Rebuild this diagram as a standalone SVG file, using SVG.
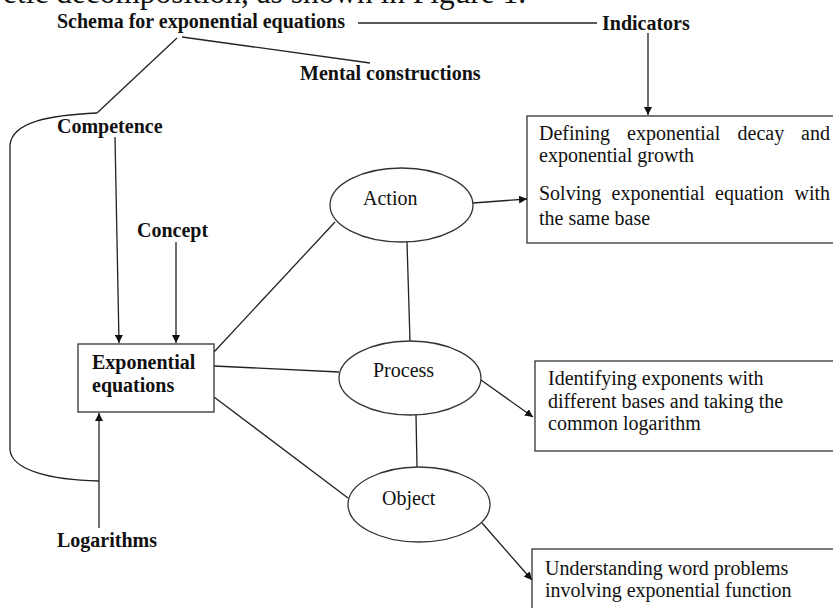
<svg xmlns="http://www.w3.org/2000/svg" width="833" height="608" viewBox="0 0 833 608">
<defs>
<marker id="ah" viewBox="0 0 10 10" refX="10" refY="5" markerWidth="8" markerHeight="8" markerUnits="userSpaceOnUse" orient="auto">
<path d="M0,0 L10,5 L0,10 z" fill="#111"/>
</marker>
<style>
.t{font-family:"Liberation Serif","Times New Roman",serif;font-size:20px;fill:#111}
.b{font-weight:bold}
.ln{stroke:#222;stroke-width:1.3;fill:none}
.bx{stroke:#333;stroke-width:1.3;fill:#fff}
.ar{stroke:#222;stroke-width:1.3;fill:none;marker-end:url(#ah)}
</style>
</defs>
<rect width="833" height="608" fill="#fff"/>
<text class="t" x="3" y="3" style="font-size:31.4px">etic decomposition, as shown in Figure 1.</text>

<g id="connectors">
<line class="ln" x1="358" y1="23" x2="597" y2="23"/>
<line class="ln" x1="182" y1="37" x2="370" y2="63"/>
<line class="ln" x1="177" y1="38" x2="97" y2="113"/>
<path class="ln" d="M97,113 C50,115 12,122 10,145 L10,450 C12,470 50,480 99,481"/>
<line class="ar" x1="648" y1="33" x2="648" y2="115"/>
<line class="ar" x1="115" y1="137" x2="119" y2="343"/>
<line class="ar" x1="176" y1="242" x2="176" y2="343"/>
<line class="ar" x1="99" y1="528" x2="99" y2="413"/>
<line class="ln" x1="214" y1="352" x2="335" y2="222"/>
<line class="ln" x1="214" y1="366" x2="339" y2="372"/>
<line class="ln" x1="214" y1="397" x2="348" y2="498"/>
<line class="ln" x1="407" y1="242" x2="410" y2="341"/>
<line class="ln" x1="416" y1="415" x2="417" y2="467"/>
<line class="ar" x1="473" y1="203" x2="527" y2="199"/>
<line class="ar" x1="481" y1="380" x2="533" y2="417"/>
<line class="ar" x1="482" y1="523" x2="532" y2="580"/>
</g>

<g id="schema"><text class="t b" x="57" y="28">Schema for exponential equations</text></g>
<g id="indicators"><text class="t b" x="602" y="30">Indicators</text></g>
<g id="mental"><text class="t b" x="300" y="80">Mental constructions</text></g>
<g id="competence"><text class="t b" x="57" y="133">Competence</text></g>
<g id="concept"><text class="t b" x="137" y="237">Concept</text></g>
<g id="logarithms"><text class="t b" x="57" y="547">Logarithms</text></g>

<g id="exponential">
<rect class="bx" x="78" y="344" width="136" height="68"/>
<text class="t b" x="92" y="369">Exponential</text>
<text class="t b" x="92" y="392">equations</text>
</g>

<g id="action">
<ellipse class="bx" cx="401.5" cy="205" rx="71.5" ry="37"/>
<text class="t" x="363" y="205">Action</text>
</g>
<g id="process">
<ellipse class="bx" cx="410" cy="378" rx="71" ry="37"/>
<text class="t" x="373" y="377">Process</text>
</g>
<g id="object">
<ellipse class="bx" cx="419" cy="504.5" rx="71" ry="37.5"/>
<text class="t" x="382" y="505">Object</text>
</g>

<g id="box-action">
<rect class="bx" x="527" y="116" width="320" height="127"/>
<text class="t" y="140"><tspan x="539">Defining</tspan><tspan x="627">exponential</tspan><tspan x="737.5">decay</tspan><tspan x="801">and</tspan></text>
<text class="t" x="539" y="162">exponential growth</text>
<text class="t" y="200"><tspan x="539">Solving</tspan><tspan x="611.5">exponential</tspan><tspan x="715">equation</tspan><tspan x="794.5">with</tspan></text>
<text class="t" x="539" y="225">the same base</text>
</g>

<g id="box-process">
<rect class="bx" x="535" y="361" width="310" height="90"/>
<text class="t" x="548" y="385">Identifying exponents with</text>
<text class="t" x="548" y="408">different bases and taking the</text>
<text class="t" x="548" y="430">common logarithm</text>
</g>

<g id="box-object">
<rect class="bx" x="532" y="549" width="310" height="80"/>
<text class="t" x="545" y="575">Understanding word problems</text>
<text class="t" x="545" y="597">involving exponential function</text>
</g>
</svg>
